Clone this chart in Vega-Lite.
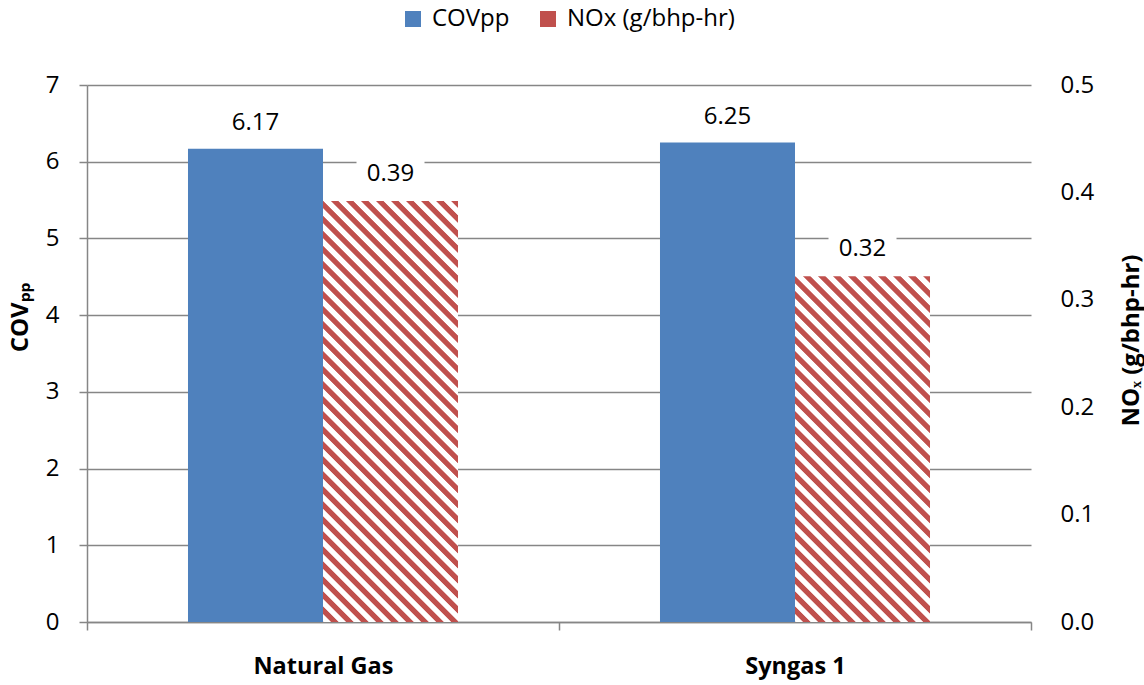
{
  "$schema": "https://vega.github.io/schema/vega-lite/v6.json",
  "width": 944,
  "height": 537,
  "autosize": {"type": "none"},
  "padding": {"left": 87, "top": 85, "right": 113, "bottom": 63},
  "background": "white",
  "config": {"view": {"stroke": null}, "font": "Open Sans"},
  "data": {
    "values": [
      {"fuel": "Natural Gas", "series": "COVpp", "value": 6.17},
      {"fuel": "Syngas 1", "series": "COVpp", "value": 6.25},
      {"fuel": "Natural Gas", "series": "NOx (g/bhp-hr)", "value": 0.392},
      {"fuel": "Syngas 1", "series": "NOx (g/bhp-hr)", "value": 0.322}
    ]
  },
  "encoding": {
    "x": {
      "field": "fuel", "type": "nominal", "sort": ["Natural Gas", "Syngas 1"],
      "scale": {"paddingInner": 0, "paddingOuter": 0},
      "axis": {
        "title": null, "tickBand": "extent", "grid": false, "labelAngle": 0,
        "domainColor": "#868686", "domainWidth": 1.5, "tickColor": "#868686", "tickSize": 8, "tickWidth": 1.5,
        "labelFont": "Open Sans", "labelFontSize": 23.5, "labelFontWeight": "bold", "labelColor": "black", "labelPadding": 24
      }
    },
    "xOffset": {
      "field": "series", "type": "nominal",
      "scale": {"domain": ["COVpp", "NOx (g/bhp-hr)"], "paddingInner": 0, "paddingOuter": 0.748}
    }
  },
  "layer": [
    {
      "transform": [{"filter": "datum.series === 'COVpp'"}],
      "encoding": {
        "y": {
          "field": "value", "type": "quantitative",
          "scale": {"domain": [0, 7], "nice": false},
          "axis": {
            "orient": "left", "values": [0, 1, 2, 3, 4, 5, 6, 7],
            "grid": true, "gridColor": "#868686", "gridWidth": 1.3,
            "domainColor": "#868686", "domainWidth": 1.5, "tickColor": "#868686", "tickSize": 8, "tickWidth": 1.5,
            "labelFont": "Open Sans", "labelFontSize": 24, "labelColor": "black", "labelPadding": 20,
            "title": "COVₚₚ", "titleFont": "Open Sans", "titleFontSize": 24, "titleFontWeight": "bold", "titleColor": "black",
            "titleAngle": 270, "titleAlign": "center", "titleBaseline": "middle", "titleX": -67, "titleY": 232
          }
        }
      },
      "layer": [
        {
          "mark": {"type": "bar"},
          "encoding": {
            "color": {
              "field": "series", "type": "nominal",
              "scale": {"domain": ["COVpp", "NOx (g/bhp-hr)"], "range": ["#4F81BD", "#C0504D"]},
              "legend": {
                "orient": "none", "legendX": 314, "legendY": -78, "direction": "horizontal", "title": null,
                "symbolType": "square", "symbolSize": 256, "symbolStrokeWidth": 0,
                "labelFont": "Open Sans", "labelFontSize": 24, "labelColor": "black", "labelOffset": 7, "labelLimit": 0,
                "columnPadding": 26, "padding": 0,
                "encode": {
                  "symbols": {
                    "update": {
                      "fill": {"signal": "datum.value === 'COVpp' ? '#4F81BD' : {gradient: 'linear', x1: 1, y1: 0, x2: 0, y2: 1, stops: [{offset: 0, color: '#C0504D'}, {offset: 0.14, color: '#C0504D'}, {offset: 0.1667, color: '#FFFFFF'}, {offset: 0.3067, color: '#FFFFFF'}, {offset: 0.3333, color: '#C0504D'}, {offset: 0.4733, color: '#C0504D'}, {offset: 0.5, color: '#FFFFFF'}, {offset: 0.64, color: '#FFFFFF'}, {offset: 0.6667, color: '#C0504D'}, {offset: 0.8067, color: '#C0504D'}, {offset: 0.8333, color: '#FFFFFF'}, {offset: 0.9733, color: '#FFFFFF'}, {offset: 1, color: '#C0504D'}]}"}
                    }
                  }
                }
              }
            }
          }
        },
        {
          "mark": {"type": "point", "shape": "M-1,-0.38H1V0.38H-1Z", "size": 4624, "filled": true, "fill": "white", "opacity": 1, "strokeWidth": 0, "yOffset": -35}
        },
        {
          "mark": {"type": "text", "font": "Open Sans", "fontSize": 24, "color": "black", "dy": -26},
          "encoding": {"text": {"field": "value", "type": "quantitative", "format": ".2f"}}
        }
      ]
    },
    {
      "transform": [{"filter": "datum.series !== 'COVpp'"}],
      "encoding": {
        "y": {
          "field": "value", "type": "quantitative",
          "scale": {"domain": [0, 0.5], "nice": false},
          "axis": {
            "orient": "right", "values": [0, 0.1, 0.2, 0.3, 0.4, 0.5], "format": ".1f",
            "grid": false, "domain": false, "ticks": false,
            "labelFont": "Open Sans", "labelFontSize": 24, "labelColor": "black", "labelPadding": 29,
            "title": "NOₓ (g/bhp-hr)", "titleFont": "Open Sans", "titleFontSize": 24, "titleFontWeight": "bold", "titleColor": "black",
            "titleAngle": 270, "titleAlign": "center", "titleBaseline": "middle", "titleX": 100, "titleY": 255
          }
        }
      },
      "layer": [
        {
          "transform": [{"filter": "datum.fuel === 'Natural Gas'"}],
          "mark": {
            "type": "bar",
            "fill": {
              "gradient": "linear", "x1": 1, "y1": 0, "x2": 0.616, "y2": 1.1975,
              "stops": [
                {"offset": 0, "color": "#C0504D"}, {"offset": 0.0114, "color": "#C0504D"}, {"offset": 0.0135, "color": "#FFFFFF"}, {"offset": 0.0249, "color": "#FFFFFF"},
                {"offset": 0.0270, "color": "#C0504D"}, {"offset": 0.0384, "color": "#C0504D"}, {"offset": 0.0405, "color": "#FFFFFF"}, {"offset": 0.0519, "color": "#FFFFFF"},
                {"offset": 0.0541, "color": "#C0504D"}, {"offset": 0.0655, "color": "#C0504D"}, {"offset": 0.0676, "color": "#FFFFFF"}, {"offset": 0.0790, "color": "#FFFFFF"},
                {"offset": 0.0811, "color": "#C0504D"}, {"offset": 0.0925, "color": "#C0504D"}, {"offset": 0.0946, "color": "#FFFFFF"}, {"offset": 0.1060, "color": "#FFFFFF"},
                {"offset": 0.1081, "color": "#C0504D"}, {"offset": 0.1195, "color": "#C0504D"}, {"offset": 0.1216, "color": "#FFFFFF"}, {"offset": 0.1330, "color": "#FFFFFF"},
                {"offset": 0.1351, "color": "#C0504D"}, {"offset": 0.1465, "color": "#C0504D"}, {"offset": 0.1486, "color": "#FFFFFF"}, {"offset": 0.1600, "color": "#FFFFFF"},
                {"offset": 0.1622, "color": "#C0504D"}, {"offset": 0.1736, "color": "#C0504D"}, {"offset": 0.1757, "color": "#FFFFFF"}, {"offset": 0.1871, "color": "#FFFFFF"},
                {"offset": 0.1892, "color": "#C0504D"}, {"offset": 0.2006, "color": "#C0504D"}, {"offset": 0.2027, "color": "#FFFFFF"}, {"offset": 0.2141, "color": "#FFFFFF"},
                {"offset": 0.2162, "color": "#C0504D"}, {"offset": 0.2276, "color": "#C0504D"}, {"offset": 0.2297, "color": "#FFFFFF"}, {"offset": 0.2411, "color": "#FFFFFF"},
                {"offset": 0.2432, "color": "#C0504D"}, {"offset": 0.2546, "color": "#C0504D"}, {"offset": 0.2567, "color": "#FFFFFF"}, {"offset": 0.2681, "color": "#FFFFFF"},
                {"offset": 0.2703, "color": "#C0504D"}, {"offset": 0.2817, "color": "#C0504D"}, {"offset": 0.2838, "color": "#FFFFFF"}, {"offset": 0.2952, "color": "#FFFFFF"},
                {"offset": 0.2973, "color": "#C0504D"}, {"offset": 0.3087, "color": "#C0504D"}, {"offset": 0.3108, "color": "#FFFFFF"}, {"offset": 0.3222, "color": "#FFFFFF"},
                {"offset": 0.3243, "color": "#C0504D"}, {"offset": 0.3357, "color": "#C0504D"}, {"offset": 0.3378, "color": "#FFFFFF"}, {"offset": 0.3492, "color": "#FFFFFF"},
                {"offset": 0.3514, "color": "#C0504D"}, {"offset": 0.3628, "color": "#C0504D"}, {"offset": 0.3649, "color": "#FFFFFF"}, {"offset": 0.3763, "color": "#FFFFFF"},
                {"offset": 0.3784, "color": "#C0504D"}, {"offset": 0.3898, "color": "#C0504D"}, {"offset": 0.3919, "color": "#FFFFFF"}, {"offset": 0.4033, "color": "#FFFFFF"},
                {"offset": 0.4054, "color": "#C0504D"}, {"offset": 0.4168, "color": "#C0504D"}, {"offset": 0.4189, "color": "#FFFFFF"}, {"offset": 0.4303, "color": "#FFFFFF"},
                {"offset": 0.4324, "color": "#C0504D"}, {"offset": 0.4438, "color": "#C0504D"}, {"offset": 0.4459, "color": "#FFFFFF"}, {"offset": 0.4573, "color": "#FFFFFF"},
                {"offset": 0.4595, "color": "#C0504D"}, {"offset": 0.4709, "color": "#C0504D"}, {"offset": 0.4730, "color": "#FFFFFF"}, {"offset": 0.4844, "color": "#FFFFFF"},
                {"offset": 0.4865, "color": "#C0504D"}, {"offset": 0.4979, "color": "#C0504D"}, {"offset": 0.5000, "color": "#FFFFFF"}, {"offset": 0.5114, "color": "#FFFFFF"},
                {"offset": 0.5135, "color": "#C0504D"}, {"offset": 0.5249, "color": "#C0504D"}, {"offset": 0.5270, "color": "#FFFFFF"}, {"offset": 0.5384, "color": "#FFFFFF"},
                {"offset": 0.5405, "color": "#C0504D"}, {"offset": 0.5519, "color": "#C0504D"}, {"offset": 0.5540, "color": "#FFFFFF"}, {"offset": 0.5654, "color": "#FFFFFF"},
                {"offset": 0.5676, "color": "#C0504D"}, {"offset": 0.5790, "color": "#C0504D"}, {"offset": 0.5811, "color": "#FFFFFF"}, {"offset": 0.5925, "color": "#FFFFFF"},
                {"offset": 0.5946, "color": "#C0504D"}, {"offset": 0.6060, "color": "#C0504D"}, {"offset": 0.6081, "color": "#FFFFFF"}, {"offset": 0.6195, "color": "#FFFFFF"},
                {"offset": 0.6216, "color": "#C0504D"}, {"offset": 0.6330, "color": "#C0504D"}, {"offset": 0.6351, "color": "#FFFFFF"}, {"offset": 0.6465, "color": "#FFFFFF"},
                {"offset": 0.6486, "color": "#C0504D"}, {"offset": 0.6600, "color": "#C0504D"}, {"offset": 0.6621, "color": "#FFFFFF"}, {"offset": 0.6735, "color": "#FFFFFF"},
                {"offset": 0.6757, "color": "#C0504D"}, {"offset": 0.6871, "color": "#C0504D"}, {"offset": 0.6892, "color": "#FFFFFF"}, {"offset": 0.7006, "color": "#FFFFFF"},
                {"offset": 0.7027, "color": "#C0504D"}, {"offset": 0.7141, "color": "#C0504D"}, {"offset": 0.7162, "color": "#FFFFFF"}, {"offset": 0.7276, "color": "#FFFFFF"},
                {"offset": 0.7297, "color": "#C0504D"}, {"offset": 0.7411, "color": "#C0504D"}, {"offset": 0.7432, "color": "#FFFFFF"}, {"offset": 0.7546, "color": "#FFFFFF"},
                {"offset": 0.7568, "color": "#C0504D"}, {"offset": 0.7682, "color": "#C0504D"}, {"offset": 0.7703, "color": "#FFFFFF"}, {"offset": 0.7817, "color": "#FFFFFF"},
                {"offset": 0.7838, "color": "#C0504D"}, {"offset": 0.7952, "color": "#C0504D"}, {"offset": 0.7973, "color": "#FFFFFF"}, {"offset": 0.8087, "color": "#FFFFFF"},
                {"offset": 0.8108, "color": "#C0504D"}, {"offset": 0.8222, "color": "#C0504D"}, {"offset": 0.8243, "color": "#FFFFFF"}, {"offset": 0.8357, "color": "#FFFFFF"},
                {"offset": 0.8378, "color": "#C0504D"}, {"offset": 0.8492, "color": "#C0504D"}, {"offset": 0.8513, "color": "#FFFFFF"}, {"offset": 0.8627, "color": "#FFFFFF"},
                {"offset": 0.8649, "color": "#C0504D"}, {"offset": 0.8763, "color": "#C0504D"}, {"offset": 0.8784, "color": "#FFFFFF"}, {"offset": 0.8898, "color": "#FFFFFF"},
                {"offset": 0.8919, "color": "#C0504D"}, {"offset": 0.9033, "color": "#C0504D"}, {"offset": 0.9054, "color": "#FFFFFF"}, {"offset": 0.9168, "color": "#FFFFFF"},
                {"offset": 0.9189, "color": "#C0504D"}, {"offset": 0.9303, "color": "#C0504D"}, {"offset": 0.9324, "color": "#FFFFFF"}, {"offset": 0.9438, "color": "#FFFFFF"},
                {"offset": 0.9459, "color": "#C0504D"}, {"offset": 0.9573, "color": "#C0504D"}, {"offset": 0.9594, "color": "#FFFFFF"}, {"offset": 0.9708, "color": "#FFFFFF"},
                {"offset": 0.9730, "color": "#C0504D"}, {"offset": 0.9844, "color": "#C0504D"}, {"offset": 0.9865, "color": "#FFFFFF"}, {"offset": 0.9979, "color": "#FFFFFF"},
                {"offset": 1, "color": "#C0504D"}
              ]
            }
          }
        },
        {
          "transform": [{"filter": "datum.fuel === 'Syngas 1'"}],
          "mark": {
            "type": "bar",
            "fill": {
              "gradient": "linear", "x1": 1, "y1": 0, "x2": 0.529, "y2": 1.2065,
              "stops": [
                {"offset": 0, "color": "#C0504D"}, {"offset": 0.0131, "color": "#C0504D"}, {"offset": 0.0156, "color": "#FFFFFF"}, {"offset": 0.0288, "color": "#FFFFFF"},
                {"offset": 0.03125, "color": "#C0504D"}, {"offset": 0.0444, "color": "#C0504D"}, {"offset": 0.0469, "color": "#FFFFFF"}, {"offset": 0.0600, "color": "#FFFFFF"},
                {"offset": 0.0625, "color": "#C0504D"}, {"offset": 0.0756, "color": "#C0504D"}, {"offset": 0.0781, "color": "#FFFFFF"}, {"offset": 0.0913, "color": "#FFFFFF"},
                {"offset": 0.09375, "color": "#C0504D"}, {"offset": 0.1069, "color": "#C0504D"}, {"offset": 0.1094, "color": "#FFFFFF"}, {"offset": 0.1225, "color": "#FFFFFF"},
                {"offset": 0.125, "color": "#C0504D"}, {"offset": 0.1381, "color": "#C0504D"}, {"offset": 0.1406, "color": "#FFFFFF"}, {"offset": 0.1538, "color": "#FFFFFF"},
                {"offset": 0.15625, "color": "#C0504D"}, {"offset": 0.1694, "color": "#C0504D"}, {"offset": 0.1719, "color": "#FFFFFF"}, {"offset": 0.1850, "color": "#FFFFFF"},
                {"offset": 0.1875, "color": "#C0504D"}, {"offset": 0.2006, "color": "#C0504D"}, {"offset": 0.2031, "color": "#FFFFFF"}, {"offset": 0.2163, "color": "#FFFFFF"},
                {"offset": 0.21875, "color": "#C0504D"}, {"offset": 0.2319, "color": "#C0504D"}, {"offset": 0.2344, "color": "#FFFFFF"}, {"offset": 0.2475, "color": "#FFFFFF"},
                {"offset": 0.25, "color": "#C0504D"}, {"offset": 0.2631, "color": "#C0504D"}, {"offset": 0.2656, "color": "#FFFFFF"}, {"offset": 0.2788, "color": "#FFFFFF"},
                {"offset": 0.28125, "color": "#C0504D"}, {"offset": 0.2944, "color": "#C0504D"}, {"offset": 0.2969, "color": "#FFFFFF"}, {"offset": 0.3100, "color": "#FFFFFF"},
                {"offset": 0.3125, "color": "#C0504D"}, {"offset": 0.3256, "color": "#C0504D"}, {"offset": 0.3281, "color": "#FFFFFF"}, {"offset": 0.3413, "color": "#FFFFFF"},
                {"offset": 0.34375, "color": "#C0504D"}, {"offset": 0.3569, "color": "#C0504D"}, {"offset": 0.3594, "color": "#FFFFFF"}, {"offset": 0.3725, "color": "#FFFFFF"},
                {"offset": 0.375, "color": "#C0504D"}, {"offset": 0.3881, "color": "#C0504D"}, {"offset": 0.3906, "color": "#FFFFFF"}, {"offset": 0.4038, "color": "#FFFFFF"},
                {"offset": 0.40625, "color": "#C0504D"}, {"offset": 0.4194, "color": "#C0504D"}, {"offset": 0.4219, "color": "#FFFFFF"}, {"offset": 0.4350, "color": "#FFFFFF"},
                {"offset": 0.4375, "color": "#C0504D"}, {"offset": 0.4506, "color": "#C0504D"}, {"offset": 0.4531, "color": "#FFFFFF"}, {"offset": 0.4663, "color": "#FFFFFF"},
                {"offset": 0.46875, "color": "#C0504D"}, {"offset": 0.4819, "color": "#C0504D"}, {"offset": 0.4844, "color": "#FFFFFF"}, {"offset": 0.4975, "color": "#FFFFFF"},
                {"offset": 0.5, "color": "#C0504D"}, {"offset": 0.5131, "color": "#C0504D"}, {"offset": 0.5156, "color": "#FFFFFF"}, {"offset": 0.5288, "color": "#FFFFFF"},
                {"offset": 0.53125, "color": "#C0504D"}, {"offset": 0.5444, "color": "#C0504D"}, {"offset": 0.5469, "color": "#FFFFFF"}, {"offset": 0.5600, "color": "#FFFFFF"},
                {"offset": 0.5625, "color": "#C0504D"}, {"offset": 0.5756, "color": "#C0504D"}, {"offset": 0.5781, "color": "#FFFFFF"}, {"offset": 0.5913, "color": "#FFFFFF"},
                {"offset": 0.59375, "color": "#C0504D"}, {"offset": 0.6069, "color": "#C0504D"}, {"offset": 0.6094, "color": "#FFFFFF"}, {"offset": 0.6225, "color": "#FFFFFF"},
                {"offset": 0.625, "color": "#C0504D"}, {"offset": 0.6381, "color": "#C0504D"}, {"offset": 0.6406, "color": "#FFFFFF"}, {"offset": 0.6538, "color": "#FFFFFF"},
                {"offset": 0.65625, "color": "#C0504D"}, {"offset": 0.6694, "color": "#C0504D"}, {"offset": 0.6719, "color": "#FFFFFF"}, {"offset": 0.6850, "color": "#FFFFFF"},
                {"offset": 0.6875, "color": "#C0504D"}, {"offset": 0.7006, "color": "#C0504D"}, {"offset": 0.7031, "color": "#FFFFFF"}, {"offset": 0.7163, "color": "#FFFFFF"},
                {"offset": 0.71875, "color": "#C0504D"}, {"offset": 0.7319, "color": "#C0504D"}, {"offset": 0.7344, "color": "#FFFFFF"}, {"offset": 0.7475, "color": "#FFFFFF"},
                {"offset": 0.75, "color": "#C0504D"}, {"offset": 0.7631, "color": "#C0504D"}, {"offset": 0.7656, "color": "#FFFFFF"}, {"offset": 0.7788, "color": "#FFFFFF"},
                {"offset": 0.78125, "color": "#C0504D"}, {"offset": 0.7944, "color": "#C0504D"}, {"offset": 0.7969, "color": "#FFFFFF"}, {"offset": 0.8100, "color": "#FFFFFF"},
                {"offset": 0.8125, "color": "#C0504D"}, {"offset": 0.8256, "color": "#C0504D"}, {"offset": 0.8281, "color": "#FFFFFF"}, {"offset": 0.8413, "color": "#FFFFFF"},
                {"offset": 0.84375, "color": "#C0504D"}, {"offset": 0.8569, "color": "#C0504D"}, {"offset": 0.8594, "color": "#FFFFFF"}, {"offset": 0.8725, "color": "#FFFFFF"},
                {"offset": 0.875, "color": "#C0504D"}, {"offset": 0.8881, "color": "#C0504D"}, {"offset": 0.8906, "color": "#FFFFFF"}, {"offset": 0.9038, "color": "#FFFFFF"},
                {"offset": 0.90625, "color": "#C0504D"}, {"offset": 0.9194, "color": "#C0504D"}, {"offset": 0.9219, "color": "#FFFFFF"}, {"offset": 0.9350, "color": "#FFFFFF"},
                {"offset": 0.9375, "color": "#C0504D"}, {"offset": 0.9506, "color": "#C0504D"}, {"offset": 0.9531, "color": "#FFFFFF"}, {"offset": 0.9663, "color": "#FFFFFF"},
                {"offset": 0.96875, "color": "#C0504D"}, {"offset": 0.9819, "color": "#C0504D"}, {"offset": 0.9844, "color": "#FFFFFF"}, {"offset": 0.9975, "color": "#FFFFFF"},
                {"offset": 1, "color": "#C0504D"}
              ]
            }
          }
        },
        {
          "mark": {"type": "point", "shape": "M-1,-0.38H1V0.38H-1Z", "size": 4624, "filled": true, "fill": "white", "opacity": 1, "strokeWidth": 0, "yOffset": -36}
        },
        {
          "mark": {"type": "text", "font": "Open Sans", "fontSize": 24, "color": "black", "dy": -27},
          "encoding": {"text": {"field": "value", "type": "quantitative", "format": ".2f"}}
        }
      ]
    }
  ],
  "resolve": {"scale": {"y": "independent"}}
}
